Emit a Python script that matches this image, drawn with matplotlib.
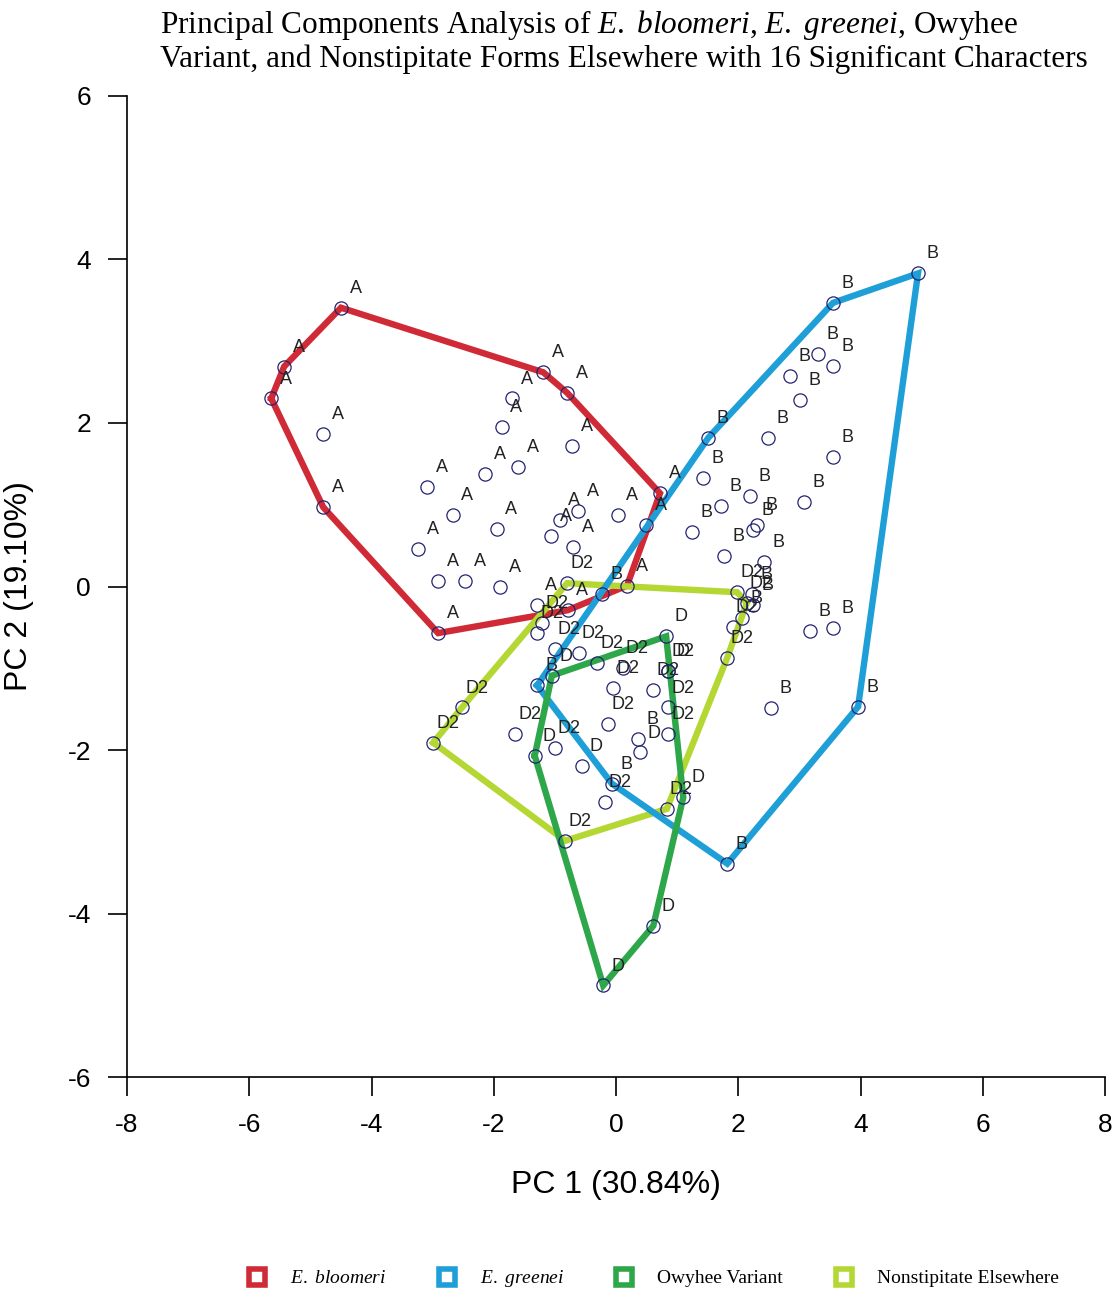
import numpy as np
import matplotlib
matplotlib.use('Agg')
import matplotlib.pyplot as plt
from matplotlib.lines import Line2D

plt.rcParams['font.family'] = ['Liberation Sans', 'DejaVu Sans']
plt.rcParams['mathtext.fontset'] = 'custom'
plt.rcParams['mathtext.rm'] = 'Liberation Serif'
plt.rcParams['mathtext.it'] = 'Liberation Serif:italic'

# PCA scores (PC1, PC2)
bloomeri_x = [-4.50, -5.43, -5.64, -4.79, -2.91, -1.30, 0.18, 0.72, -0.80, -1.19,
              -4.79, -1.70, -1.87, -0.72, -2.14, -1.60, -3.09, -2.67, -1.95, -0.62,
              -0.92, -1.06, 0.03, 0.49, -3.24, -0.70, -2.91, -2.47, -1.90, -0.79]
bloomeri_y = [3.41, 2.69, 2.30, 0.97, -0.57, -0.23, 0.01, 1.14, 2.37, 2.62,
              1.87, 2.30, 1.95, 1.72, 1.38, 1.46, 1.22, 0.87, 0.70, 0.92,
              0.81, 0.62, 0.87, 0.75, 0.46, 0.48, 0.07, 0.07, -0.01, -0.29]

greenei_x = [4.94, 3.55, 1.51, -1.29, -0.07, 1.82, 3.96, 3.30, 3.55, 2.85,
             3.01, 2.49, 3.55, 1.42, 2.19, 1.72, 3.08, 1.24, 2.31, 2.24,
             1.77, 2.42, 3.17, 3.55, 2.54, -0.23, 0.36, 2.24, 2.22, 2.06]
greenei_y = [3.83, 3.47, 1.82, -1.21, -2.41, -3.39, -1.47, 2.85, 2.70, 2.58,
             2.28, 1.82, 1.58, 1.33, 1.11, 0.99, 1.03, 0.67, 0.75, 0.69,
             0.37, 0.30, -0.54, -0.51, -1.49, -0.09, -1.86, -0.23, -0.09, -0.38]

owyhee_x = [0.82, -1.05, -1.33, -0.21, 0.61, 1.10, -0.56, 0.39, 0.85]
owyhee_y = [-0.61, -1.09, -2.07, -4.88, -4.15, -2.58, -2.19, -2.03, -1.03]

nonstip_x = [-0.80, 1.98, 1.82, 0.83, -0.83, -2.99, -2.52, -1.00, -0.61, -0.31,
             0.11, -0.05, 0.85, 0.85, -0.13, -1.65, -1.00, -0.18, 0.85, -1.21,
             -1.29, 2.14, 1.91, 0.61]
nonstip_y = [0.04, -0.07, -0.87, -2.72, -3.11, -1.91, -1.48, -0.76, -0.81, -0.94,
             -1.00, -1.24, -1.03, -1.48, -1.68, -1.80, -1.97, -2.64, -1.80, -0.45,
             -0.57, -0.20, -0.50, -1.27]

groups = [
    ('bloomeri', bloomeri_x, bloomeri_y, 'A', '#cf2a36', r'$\mathit{E.\ bloomeri}$'),
    ('nonstip', nonstip_x, nonstip_y, 'D2', '#b5d733', 'Nonstipitate Elsewhere'),
    ('greenei', greenei_x, greenei_y, 'B', '#1f9fd8', r'$\mathit{E.\ greenei}$'),
    ('owyhee', owyhee_x, owyhee_y, 'D', '#2ea64a', 'Owyhee Variant'),
]


def hull(xs, ys):
    # monotone chain convex hull
    pts = sorted(set(zip(xs, ys)))
    def cross(o, a, b):
        return (a[0]-o[0])*(b[1]-o[1]) - (a[1]-o[1])*(b[0]-o[0])
    lower, upper = [], []
    for p in pts:
        while len(lower) >= 2 and cross(lower[-2], lower[-1], p) <= 0:
            lower.pop()
        lower.append(p)
    for p in reversed(pts):
        while len(upper) >= 2 and cross(upper[-2], upper[-1], p) <= 0:
            upper.pop()
        upper.append(p)
    h = lower[:-1] + upper[:-1]
    h.append(h[0])
    return np.array(h)


fig = plt.figure(figsize=(11.16, 12.97), dpi=100)
ax = fig.add_axes([0.1138, 0.1696, 0.8764, 0.7564])

for name, xs, ys, lab, col, _ in groups:
    h = hull(xs, ys)
    ax.plot(h[:, 0], h[:, 1], color=col, lw=4.6, solid_joinstyle='miter', zorder=2)

for name, xs, ys, lab, col, _ in groups:
    ax.plot(xs, ys, 'o', ms=9.5, mfc='none', mec='#22236e', mew=0.9, zorder=3)
    for x, y in zip(xs, ys):
        ax.annotate(lab, (x, y), xytext=(10.5, 14), textcoords='offset points',
                    ha='center', va='center', fontsize=13, color='#222222', zorder=3)

ax.set_xlim(-8, 8)
ax.set_ylim(-6, 6)
ax.set_xticks(range(-8, 9, 2))
ax.set_yticks(range(-6, 7, 2))
ax.tick_params(direction='out', length=14, width=1.2, labelsize=19, pad=12)
ax.set_xticklabels([str(v) for v in range(-8, 9, 2)])
ax.set_yticklabels([str(v) for v in range(-6, 7, 2)])
for s in ['top', 'right']:
    ax.spines[s].set_visible(False)
for s in ['left', 'bottom']:
    ax.spines[s].set_linewidth(1.2)
ax.set_xlabel('PC 1 (30.84%)', fontsize=23, labelpad=24)
ax.set_ylabel('PC 2 (19.10%)', fontsize=23, labelpad=24)

title = ("Principal Components Analysis of $\\mathit{E.\\ bloomeri}$, $\\mathit{E.\\ greenei}$, Owyhee\n"
         "Variant, and Nonstipitate Forms Elsewhere with 16 Significant Characters")
fig.text(0.143, 0.994, title, fontsize=22.5, family='Liberation Serif', va='top', ha='left',
         linespacing=1.1)

handles, labels = [], []
for name in ['bloomeri', 'greenei', 'owyhee', 'nonstip']:
    g = [gg for gg in groups if gg[0] == name][0]
    handles.append(Line2D([], [], ls='none', marker='s', ms=11, mfc='white', mec=g[4], mew=4))
    labels.append(g[5])
fig.legend(handles, labels, loc='center', bbox_to_anchor=(0.585, 0.014), ncol=4, frameon=False,
           prop={'family': 'Liberation Serif', 'size': 14}, columnspacing=2.6, handletextpad=1.2,
           handlelength=1.0)

fig.savefig('out.png', dpi=100)
